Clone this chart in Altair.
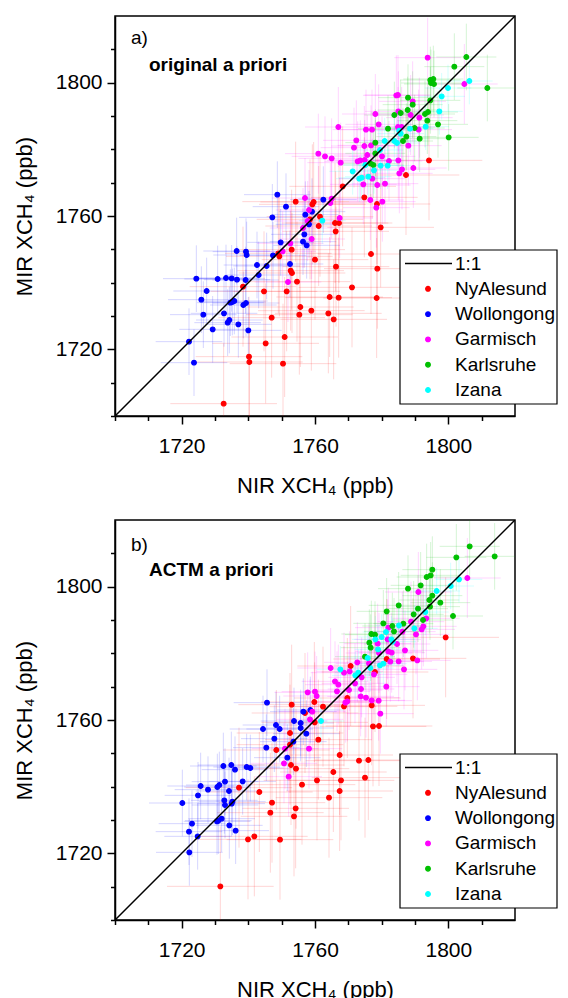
import altair as alt
import pandas as pd

SITES = ["NyAlesund", "Wollongong", "Garmisch", "Karlsruhe", "Izana"]
LEGEND_ITEMS = ["1:1"] + SITES
ITEM_COLORS = ["#000000", "#FF0000", "#0000FF", "#FF00FF", "#00C000", "#00FFFF"]

# typical 1-sigma error bars per site (ppb): NIR (x) and MIR (y)
X_ERR = [16, 10, 10, 9, 7]
Y_ERR = [18, 10, 12, 10, 7]

AXIS_RANGE = [1700, 1820]
ONE_TO_ONE = [1700, 1820]
TICKS = list(range(1700, 1811, 10))

# ---------------- panel a) original a priori ----------------
A_NY_X = [1794.2, 1787.3, 1768.3, 1774.8, 1778.6, 1754.2, 1759.2, 1759.6, 1758.5, 1761.5,
          1761.1, 1766.0, 1767.2, 1766.2, 1779.7, 1749.0, 1749.3, 1753.0, 1760.0, 1776.8,
          1766.3, 1778.7, 1752.7, 1753.1, 1754.6, 1738.4, 1744.7, 1751.5, 1771.1, 1764.4,
          1767.1, 1778.5, 1755.6, 1755.3, 1758.9, 1764.0, 1765.6, 1747.0, 1750.9, 1745.2,
          1740.2, 1740.3, 1750.4, 1732.6]
A_NY_Y = [1776.7, 1772.3, 1768.9, 1765.6, 1763.6, 1764.3, 1763.5, 1764.2, 1759.0, 1759.8,
          1757.0, 1757.9, 1757.9, 1755.4, 1756.6, 1748.8, 1747.9, 1749.9, 1746.9, 1748.6,
          1744.8, 1744.2, 1743.6, 1742.9, 1740.3, 1738.8, 1737.4, 1737.4, 1738.6, 1735.7,
          1735.5, 1735.4, 1732.7, 1730.4, 1731.6, 1730.8, 1729.0, 1729.5, 1723.7, 1721.8,
          1717.8, 1716.2, 1715.7, 1703.7]
A_WO_X = [1748.7, 1751.3, 1747.2, 1762.5, 1757.1, 1759.1, 1758.2, 1756.8, 1756.4, 1757.5,
          1749.7, 1747.4, 1752.5, 1745.5, 1742.6, 1743.1, 1736.5, 1739.3, 1739.5, 1724.4,
          1730.8, 1733.3, 1735.0, 1736.6, 1739.2, 1727.5, 1725.9, 1726.5, 1729.3, 1732.7,
          1734.6, 1735.8, 1738.5, 1739.3, 1733.8, 1734.3, 1737.0, 1740.0, 1722.2, 1723.7,
          1735.2]
A_WO_Y = [1766.4, 1762.8, 1759.6, 1764.9, 1760.4, 1761.3, 1757.5, 1754.5, 1752.3, 1751.2,
          1752.1, 1748.2, 1745.6, 1745.0, 1745.3, 1742.3, 1749.5, 1749.3, 1748.3, 1741.2,
          1741.1, 1741.4, 1741.3, 1740.9, 1740.8, 1737.5, 1734.9, 1730.4, 1726.0, 1730.8,
          1734.0, 1734.5, 1733.3, 1733.9, 1728.0, 1728.8, 1727.5, 1725.7, 1722.3, 1716.0,
          1734.2]
A_GA_X = [1793.8, 1804.8, 1784.4, 1784.9, 1789.3, 1785.0, 1778.1, 1788.7, 1791.3, 1779.1,
          1784.9, 1786.0, 1767.0, 1775.3, 1777.1, 1791.1, 1772.4, 1771.7, 1774.8, 1776.8,
          1788.0, 1761.0, 1763.0, 1765.0, 1767.7, 1775.7, 1780.1, 1772.8, 1773.6, 1774.9,
          1785.0, 1782.2, 1786.1, 1785.3, 1789.5, 1781.0, 1774.5, 1777.2, 1778.7, 1776.6,
          1780.2, 1778.4, 1757.0, 1758.2, 1765.0, 1764.6, 1767.4, 1757.8, 1756.4, 1759.0,
          1752.6, 1750.3, 1751.9]
A_GA_Y = [1807.5, 1799.6, 1796.2, 1796.3, 1794.4, 1791.4, 1790.6, 1790.3, 1789.5, 1787.5,
          1786.7, 1786.7, 1786.7, 1785.9, 1785.9, 1785.9, 1782.7, 1780.5, 1781.0, 1781.2,
          1781.1, 1778.7, 1777.9, 1777.3, 1776.0, 1778.3, 1777.9, 1776.4, 1776.7, 1776.8,
          1776.7, 1776.5, 1774.0, 1772.8, 1774.4, 1769.7, 1769.5, 1771.2, 1769.3, 1764.8,
          1764.3, 1762.5, 1765.4, 1761.8, 1765.2, 1763.9, 1759.4, 1758.5, 1756.4, 1753.1,
          1751.8, 1749.4, 1740.2]
A_KA_X = [1805.4, 1801.8, 1794.6, 1795.5, 1794.8, 1795.7, 1811.7, 1787.9, 1794.6, 1789.3,
          1787.8, 1785.7, 1783.8, 1793.0, 1793.9, 1793.7, 1796.9, 1781.9, 1789.9, 1787.4,
          1786.4, 1791.4, 1800.1, 1778.1, 1778.1, 1776.6, 1777.5]
A_KA_Y = [1807.7, 1804.8, 1800.8, 1801.1, 1799.9, 1799.6, 1798.4, 1795.5, 1794.7, 1793.4,
          1791.8, 1790.9, 1790.3, 1790.6, 1791.2, 1788.6, 1787.5, 1786.2, 1786.4, 1783.8,
          1782.5, 1783.2, 1783.6, 1782.0, 1778.8, 1775.8, 1775.3]
A_IZ_X = [1806.3, 1799.9, 1798.0, 1797.3, 1793.2, 1788.5, 1785.3, 1785.7, 1783.8, 1784.6,
          1780.9, 1779.5, 1775.1, 1779.7, 1781.8, 1777.7, 1771.3, 1774.0, 1773.3, 1776.0,
          1762.2]
A_IZ_Y = [1800.5, 1798.4, 1795.9, 1791.4, 1786.8, 1786.2, 1785.6, 1784.7, 1782.5, 1781.9,
          1782.5, 1779.8, 1775.3, 1775.1, 1775.1, 1773.7, 1773.4, 1771.5, 1771.2, 1771.8,
          1758.6]

# ---------------- panel b) ACTM a priori ----------------
B_NY_X = [1799.2, 1789.4, 1781.5, 1770.7, 1778.0, 1769.7, 1768.7, 1777.0, 1753.0, 1759.8,
          1762.4, 1757.0, 1759.9, 1777.4, 1779.2, 1752.5, 1761.0, 1752.5, 1748.4, 1767.4,
          1752.8, 1754.3, 1773.2, 1776.0, 1765.5, 1775.0, 1760.6, 1767.8, 1756.1, 1737.2,
          1743.3, 1767.4, 1764.2, 1747.1, 1754.2, 1746.6, 1753.7, 1741.8, 1739.9, 1749.5,
          1731.6]
B_NY_Y = [1784.8, 1778.5, 1778.3, 1776.2, 1774.4, 1766.6, 1764.1, 1764.4, 1764.6, 1765.4,
          1764.0, 1762.1, 1759.3, 1758.1, 1758.2, 1756.1, 1754.1, 1752.6, 1751.0, 1749.5,
          1746.5, 1745.4, 1747.8, 1748.0, 1744.4, 1742.7, 1741.9, 1741.9, 1740.6, 1739.7,
          1738.4, 1738.7, 1736.7, 1735.2, 1733.5, 1732.2, 1731.1, 1725.1, 1724.2, 1724.1,
          1710.1]
B_WO_X = [1745.6, 1758.6, 1756.5, 1753.7, 1748.3, 1749.4, 1744.4, 1755.7, 1755.7, 1757.4,
          1747.8, 1753.5, 1745.4, 1751.7, 1732.5, 1734.9, 1736.0, 1739.5, 1740.6, 1733.0,
          1738.3, 1731.3, 1730.7, 1725.7, 1727.9, 1724.9, 1734.2, 1732.8, 1733.0, 1735.2,
          1735.0, 1720.2, 1732.0, 1731.0, 1730.6, 1734.3, 1736.2, 1723.1, 1722.2, 1724.8,
          1722.3]
B_WO_Y = [1765.2, 1763.0, 1762.5, 1759.7, 1758.5, 1757.3, 1757.3, 1759.1, 1757.6, 1755.9,
          1754.4, 1753.5, 1751.7, 1748.7, 1746.2, 1746.5, 1745.1, 1745.9, 1745.6, 1741.5,
          1741.6, 1740.5, 1739.9, 1740.2, 1739.1, 1737.4, 1738.7, 1735.9, 1734.5, 1735.5,
          1734.9, 1735.1, 1730.4, 1729.8, 1729.6, 1728.4, 1726.8, 1728.9, 1726.5, 1725.1,
          1720.3]
B_GA_X = [1805.7, 1791.0, 1782.0, 1786.2, 1788.8, 1792.5, 1792.0, 1790.3, 1793.4, 1778.8,
          1781.8, 1784.6, 1782.0, 1783.0, 1787.0, 1779.2, 1782.6, 1785.1, 1786.7, 1790.7,
          1772.7, 1776.2, 1764.7, 1768.7, 1770.4, 1774.0, 1777.7, 1766.0, 1767.0, 1772.0,
          1770.2, 1773.8, 1766.6, 1781.4, 1757.8, 1760.0, 1760.5, 1773.7, 1775.3, 1777.0,
          1779.1, 1769.1, 1769.7, 1759.2, 1758.5, 1779.6, 1758.2, 1751.0, 1750.7, 1752.1]
B_GA_Y = [1802.6, 1798.4, 1787.7, 1786.5, 1789.5, 1788.1, 1787.2, 1785.7, 1790.5, 1782.9,
          1784.2, 1782.8, 1780.6, 1780.2, 1780.9, 1780.1, 1777.5, 1777.6, 1775.2, 1777.9,
          1777.3, 1777.0, 1775.6, 1774.2, 1774.6, 1772.8, 1773.7, 1771.6, 1770.6, 1771.0,
          1769.0, 1769.3, 1768.6, 1770.0, 1768.3, 1768.5, 1767.2, 1767.1, 1766.7, 1765.9,
          1765.8, 1765.2, 1765.6, 1762.5, 1760.2, 1761.9, 1751.4, 1751.4, 1747.0, 1743.0]
B_KA_X = [1806.4, 1813.9, 1802.4, 1795.2, 1794.7, 1793.5, 1787.9, 1791.7, 1795.2, 1794.3,
          1797.6, 1794.5, 1790.9, 1785.1, 1781.5, 1789.6, 1792.4, 1801.4, 1780.5, 1783.2,
          1786.5, 1783.7, 1776.9, 1778.0, 1776.3, 1776.7, 1775.0]
B_KA_Y = [1812.1, 1809.1, 1808.8, 1805.1, 1803.4, 1802.9, 1799.4, 1800.4, 1797.3, 1796.0,
          1795.2, 1794.0, 1793.4, 1794.4, 1792.6, 1791.7, 1790.0, 1791.2, 1789.0, 1788.2,
          1788.9, 1786.6, 1785.8, 1785.6, 1783.2, 1781.7, 1779.0]
B_IZ_X = [1803.2, 1800.7, 1796.5, 1793.1, 1789.8, 1785.2, 1781.3, 1780.0, 1782.9, 1778.1,
          1778.9, 1783.3, 1775.8, 1780.5, 1779.5, 1776.6, 1767.6, 1773.0, 1772.1, 1761.8]
B_IZ_Y = [1802.2, 1800.2, 1798.7, 1792.4, 1787.5, 1788.4, 1786.4, 1784.9, 1784.2, 1784.2,
          1781.2, 1783.5, 1778.6, 1776.9, 1776.4, 1775.6, 1775.2, 1774.2, 1773.4, 1759.7]

FONT = "Liberation Sans"
TICK_TEST = "(datum.value - 1720) % 40 == 0"
SITE_COLOR = dict(zip(LEGEND_ITEMS, ITEM_COLORS))

# legend box layout (pixels inside each plot area)
LEG_LEFT, LEG_RIGHT, LEG_TOP, LEG_BOTTOM = 285, 442, 234, 388
LEG_ROW0, LEG_ROW_STEP = 247.5, 25.3
LEG_SYMBOL_X, LEG_LINE_X0, LEG_LINE_X1, LEG_TEXT_X = 313, 290, 337, 340


def make_frame(xs_list, ys_list):
    rows = []
    for site, xs, ys, ex, ey in zip(SITES, xs_list, ys_list, X_ERR, Y_ERR):
        for x, y in zip(xs, ys):
            rows.append({"site": site, "col": SITE_COLOR[site], "x": x, "y": y,
                         "xlo": x - ex, "xhi": x + ex, "ylo": y - ey, "yhi": y + ey})
    return pd.DataFrame(rows)


LEGEND_DF = pd.DataFrame({
    "label": LEGEND_ITEMS,
    "col": ITEM_COLORS,
    "py": [LEG_ROW0 + i * LEG_ROW_STEP for i in range(len(LEGEND_ITEMS))],
})


def make_axis(title, label_pad, title_pad):
    return alt.Axis(
        values=TICKS, format="d",
        labelExpr=f"{TICK_TEST} ? datum.label : ''",
        labelOverlap=False,
        tickSize={"condition": {"test": TICK_TEST, "value": 8}, "value": 4.5},
        grid=False, title=title, labelPadding=label_pad, titlePadding=title_pad,
    )


def legend_layers():
    box = alt.Chart(LEGEND_DF.head(1)).mark_rect(
        fill="white", stroke="black", strokeWidth=1.2
    ).encode(
        x=alt.value(LEG_LEFT), x2=alt.value(LEG_RIGHT),
        y=alt.value(LEG_TOP), y2=alt.value(LEG_BOTTOM),
    )
    ref = alt.Chart(LEGEND_DF.head(1)).mark_rule(color="black", strokeWidth=1.5).encode(
        x=alt.value(LEG_LINE_X0), x2=alt.value(LEG_LINE_X1),
        y=alt.Y("py:Q", scale=None),
    )
    dots = alt.Chart(LEGEND_DF.iloc[1:]).mark_point(
        filled=True, size=22, strokeWidth=1.2, opacity=1
    ).encode(
        x=alt.value(LEG_SYMBOL_X),
        y=alt.Y("py:Q", scale=None),
        fill=alt.Fill("col:N", scale=None),
        stroke=alt.Stroke("col:N", scale=None),
    )
    texts = alt.Chart(LEGEND_DF).mark_text(
        align="left", baseline="middle", font=FONT, fontSize=19, color="black"
    ).encode(
        x=alt.value(LEG_TEXT_X),
        y=alt.Y("py:Q", scale=None),
        text="label:N",
    )
    return [box, ref, dots, texts]


def panel(df, letter, subtitle, letter_y, sub_y):
    xs = alt.Scale(domain=AXIS_RANGE, nice=False, zero=False)
    ys = alt.Scale(domain=AXIS_RANGE, nice=False, zero=False)
    xax = make_axis("NIR XCH₄ (ppb)", 11.5, 19)
    yax = make_axis("MIR XCH₄ (ppb)", 5, 19)
    base = alt.Chart(df)
    hbars = base.mark_rule(strokeWidth=1, opacity=0.17, clip=True).encode(
        x=alt.X("xlo:Q", scale=xs, axis=xax), x2="xhi:Q",
        y=alt.Y("y:Q", scale=ys, axis=yax),
        stroke=alt.Stroke("col:N", scale=None),
    )
    vbars = base.mark_rule(strokeWidth=1, opacity=0.17, clip=True).encode(
        x=alt.X("x:Q", scale=xs, axis=xax),
        y=alt.Y("ylo:Q", scale=ys, axis=yax), y2="yhi:Q",
        stroke=alt.Stroke("col:N", scale=None),
    )
    pts = base.mark_point(filled=True, opacity=1, size=22, strokeWidth=1.2, clip=True).encode(
        x=alt.X("x:Q", scale=xs, axis=xax),
        y=alt.Y("y:Q", scale=ys, axis=yax),
        fill=alt.Fill("col:N", scale=None),
        stroke=alt.Stroke("col:N", scale=None),
    )
    line = alt.Chart(pd.DataFrame({"x": ONE_TO_ONE, "y": ONE_TO_ONE})).mark_line(
        color="black", strokeWidth=1.5, clip=True
    ).encode(
        x=alt.X("x:Q", scale=xs, axis=xax),
        y=alt.Y("y:Q", scale=ys, axis=yax),
    )
    lbl = alt.Chart(pd.DataFrame({"t": [letter]})).mark_text(
        align="left", baseline="alphabetic", font=FONT, fontSize=19, color="black"
    ).encode(x=alt.value(16), y=alt.value(letter_y), text="t:N")
    sub = alt.Chart(pd.DataFrame({"t": [subtitle]})).mark_text(
        align="left", baseline="alphabetic", font=FONT, fontSize=19,
        fontWeight="bold", color="black"
    ).encode(x=alt.value(34), y=alt.value(sub_y), text="t:N")
    layers = [hbars, vbars, pts, line, lbl, sub] + legend_layers()
    return alt.layer(*layers).properties(width=400, height=400)


df_a = make_frame([A_NY_X, A_WO_X, A_GA_X, A_KA_X, A_IZ_X],
                  [A_NY_Y, A_WO_Y, A_GA_Y, A_KA_Y, A_IZ_Y])
df_b = make_frame([B_NY_X, B_WO_X, B_GA_X, B_KA_X, B_IZ_X],
                  [B_NY_Y, B_WO_Y, B_GA_Y, B_KA_Y, B_IZ_Y])

pa = panel(df_a, "a)", "original a priori", 28, 55)
pb = panel(df_b, "b)", "ACTM a priori", 31, 56)

chart = alt.vconcat(pa, pb, spacing=21).properties(
    padding={"left": 4, "top": 7, "right": 0, "bottom": 5}, background="white"
).configure_view(
    stroke="black", strokeWidth=1.5
).configure_axis(
    domainColor="black", domainWidth=1.5, tickColor="black", tickWidth=1.5,
    labelFont=FONT, labelFontSize=21, labelColor="black",
    titleFont=FONT, titleFontSize=22, titleFontWeight="normal", titleColor="black",
)

chart.save("out.html", embed_options={"renderer": "svg", "actions": False})
